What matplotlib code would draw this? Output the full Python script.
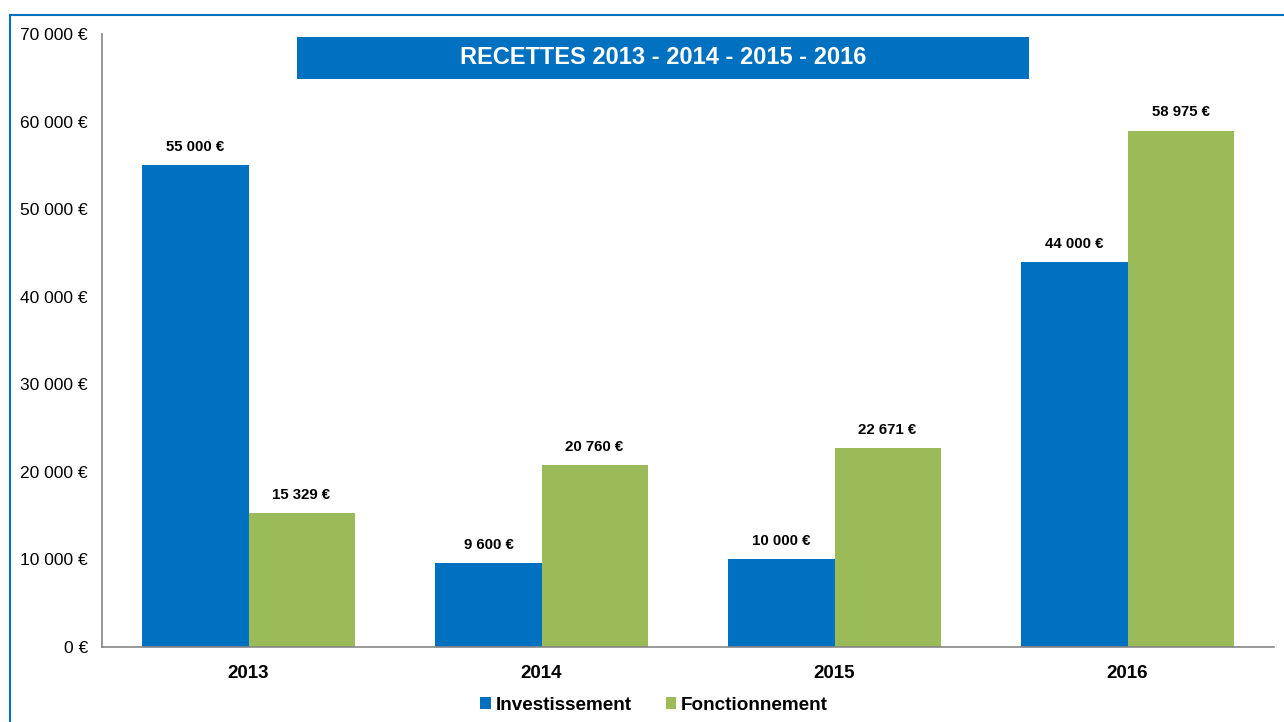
import matplotlib.pyplot as plt
from matplotlib.patches import Rectangle
import numpy as np

years = ["2013", "2014", "2015", "2016"]
investissement = [55000, 9600, 10000, 44000]
fonctionnement = [15329, 20760, 22671, 58975]
series_names = ["Investissement", "Fonctionnement"]
title = "RECETTES 2013 - 2014 - 2015 - 2016"

BLUE = "#0070C0"
GREEN = "#9BBB59"

plt.rcParams['font.family'] = ['Liberation Sans', 'DejaVu Sans']


def euro(v):
    return "{:,}".format(int(v)).replace(",", " ") + " €"


W, H = 1284, 722
fig = plt.figure(figsize=(W / 100, H / 100), dpi=100)
ax = fig.add_axes([102 / W, 1 - 647 / H, (1274 - 102) / W, (647 - 34) / H])

x = np.arange(len(years))
w = 0.362
b1 = ax.bar(x - w / 2, investissement, w, color=BLUE, label=series_names[0])
b2 = ax.bar(x + w / 2, fonctionnement, w, color=GREEN, label=series_names[1])

for bars, vals in ((b1, investissement), (b2, fonctionnement)):
    for r, v in zip(bars, vals):
        ax.annotate(euro(v), (r.get_x() + r.get_width() / 2, v),
                    xytext=(0, 8), textcoords="offset points",
                    ha="center", va="bottom", fontsize=10.8, fontweight="bold")

ax.set_xlim(-0.5, len(years) - 0.5)
ax.set_ylim(0, 70000)
ax.set_yticks(np.arange(0, 70001, 10000))
ax.set_yticklabels([euro(v) for v in np.arange(0, 70001, 10000)], fontsize=12.5)
ax.set_xticks(x)
ax.set_xticklabels(years, fontsize=13.5, fontweight="bold")
ax.tick_params(axis="x", length=0, pad=13)
ax.tick_params(axis="y", length=0, pad=10)
for s in ("top", "right"):
    ax.spines[s].set_visible(False)
for s in ("left", "bottom"):
    ax.spines[s].set_color("#868686")
    ax.spines[s].set_linewidth(1.2)

leg = fig.legend(loc="center", bbox_to_anchor=(654 / W, 1 - 705 / H), ncol=2,
                 frameon=False, prop={"size": 13.6, "weight": "bold"},
                 handlelength=0.55, handleheight=0.55, handletextpad=0.25,
                 columnspacing=1.8)

# title banner
fig.patches.append(Rectangle((297 / W, 1 - 79 / H), (1029 - 297) / W, (79 - 37) / H,
                             transform=fig.transFigure, facecolor=BLUE,
                             edgecolor="none", zorder=5))
fig.text(663 / W, 1 - 58 / H, title, ha="center", va="center", color="white",
         fontsize=17, fontweight="bold", zorder=6)

# outer frame
fig.patches.append(Rectangle((10 / W, -0.05), 1.1, 1 - 15 / H + 0.05,
                             transform=fig.transFigure, facecolor="none",
                             edgecolor=BLUE, linewidth=1.5, zorder=1))

fig.savefig("out.png", dpi=100)
